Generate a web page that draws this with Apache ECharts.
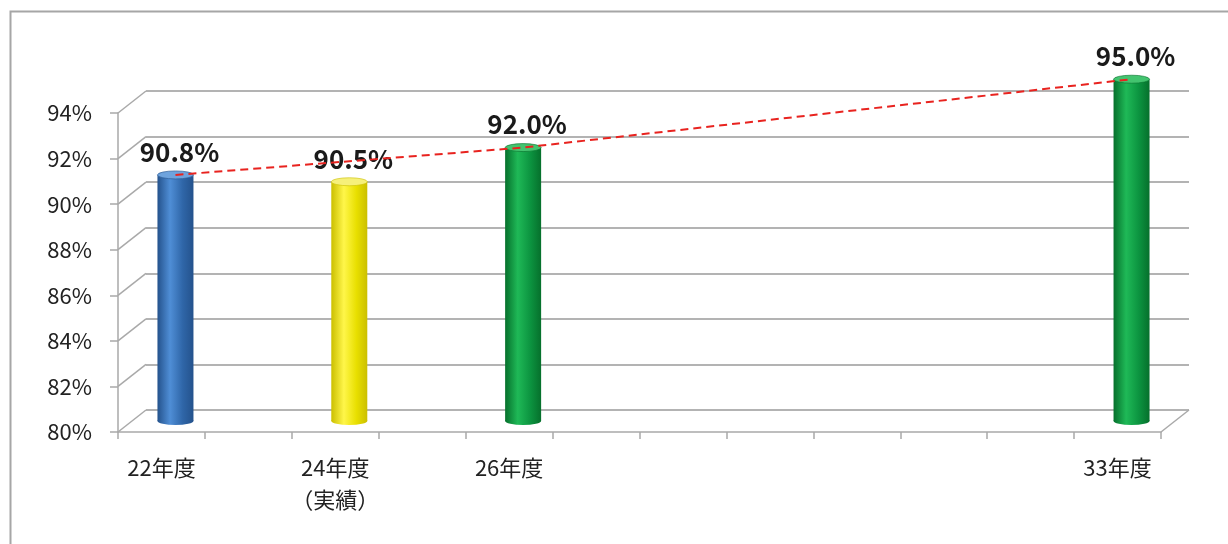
<!DOCTYPE html>
<html>
<head>
<meta charset="utf-8">
<script src="https://cdn.jsdelivr.net/npm/echarts@6/dist/echarts.min.js"></script>
<style>
  html, body { margin: 0; padding: 0; background: #fff; }
  #chart { width: 1228px; height: 544px; }
</style>
</head>
<body>
<div id="chart"></div>
<script>
// 年度（カテゴリ）
const years = ['22年度', '23年度', '24年度', '25年度', '26年度', '27年度',
  '28年度', '29年度', '30年度', '31年度', '32年度', '33年度'];
// 軸に表示するラベル
const xLabels = ['22年度', '', '24年度\n（実績）', '', '26年度', '', '', '', '', '', '', '33年度'];
// 棒の値（%）
const rates = [90.8, null, 90.5, null, 92.0, null, null, null, null, null, null, 95.0];
// 目標ライン（点線）
const targetLine = [90.8, null, null, null, 92.0, null, null, null, null, null, null, 95.0];
// 縦軸の目盛
const yTicks = [80, 82, 84, 86, 88, 90, 92, 94];

// 棒の色（カテゴリ順）
const barColors = {
  0: ['#24528c', '#4f8ed6', '#2f66a8', '#6ea3dd'],
  2: ['#cbbf00', '#fff64a', '#e8df00', '#f6f07a'],
  4: ['#06702c', '#1fb957', '#0c9440', '#43c46f'],
  11: ['#06702c', '#1fb957', '#0c9440', '#43c46f']
};

const FONT = '"Noto Sans CJK JP", "Noto Sans", sans-serif';
const DX = 28, DY = -22; // 奥行き

const chart = echarts.init(document.getElementById('chart'), null, { renderer: 'canvas' });

// 円柱の描画
function renderCylinder(params, api) {
  const idx = api.value(0);
  const val = api.value(1);
  const top = api.coord([idx, val]);
  const base = api.coord([idx, yTicks[0]]);
  const c = barColors[idx];
  const w = 36, ry = 4;
  const grad = new echarts.graphic.LinearGradient(0, 0, 1, 0, [
    { offset: 0, color: c[0] },
    { offset: 0.35, color: c[1] },
    { offset: 0.7, color: c[2] },
    { offset: 1, color: c[0] }
  ]);
  return {
    type: 'group',
    children: [
      {
        type: 'circle',
        x: top[0], y: base[1], scaleY: ry / (w / 2),
        shape: { cx: 0, cy: 0, r: w / 2 },
        style: { fill: grad }
      },
      {
        type: 'rect',
        shape: { x: top[0] - w / 2, y: top[1], width: w, height: base[1] - top[1] },
        style: { fill: grad }
      },
      {
        type: 'circle',
        x: top[0], y: top[1], scaleY: ry / (w / 2),
        shape: { cx: 0, cy: 0, r: w / 2 },
        style: { fill: c[3], stroke: c[0], lineWidth: 1 }
      },
      {
        type: 'text',
        x: top[0] + 4, y: top[1] - 10,
        z2: 10,
        style: {
          text: val.toFixed(1) + '%',
          font: 'bold 26px ' + FONT,
          fill: '#1a1a1a',
          align: 'center',
          verticalAlign: 'bottom'
        }
      }
    ]
  };
}

// 左の壁と床の斜線
function renderWall(params, api) {
  const v = api.value(1);
  const p = api.coord([0, v]);
  const cs = params.coordSys;
  const lineStyle = { stroke: '#a9a9a9', lineWidth: 1.5 };
  const children = [{
    type: 'line',
    shape: { x1: cs.x, y1: p[1], x2: cs.x + DX, y2: p[1] + DY },
    style: lineStyle
  }];
  if (v === yTicks[0]) {
    children.push({
      type: 'line',
      shape: { x1: cs.x + cs.width, y1: p[1], x2: cs.x + cs.width + DX, y2: p[1] + DY },
      style: lineStyle
    });
  }
  return { type: 'group', children: children };
}

const barData = [];
rates.forEach((v, i) => { if (v !== null) barData.push([i, v]); });

const gridBox = { width: 1043, height: 319 };

const option = {
  animation: false,
  backgroundColor: '#fff',
  graphic: [{
    type: 'rect',
    left: 8, top: 9,
    shape: { width: 1240, height: 560 },
    style: { fill: 'none', stroke: '#a6a6a6', lineWidth: 2 }
  }],
  grid: [
    Object.assign({ left: 118 + DX, top: 113 + DY }, gridBox),
    Object.assign({ left: 118 + DX / 2, top: 113 + DY / 2 }, gridBox),
    Object.assign({ left: 118, top: 113 }, gridBox)
  ],
  xAxis: [
    { gridIndex: 0, type: 'category', data: years, show: false },
    { gridIndex: 1, type: 'category', data: years, show: false },
    {
      gridIndex: 2,
      type: 'category',
      data: years,
      axisLine: { lineStyle: { color: '#a9a9a9', width: 1.5 } },
      axisTick: { show: true, interval: 0, length: 7, lineStyle: { color: '#a9a9a9', width: 1.5 } },
      axisLabel: {
        interval: 0,
        formatter: (v, i) => xLabels[i],
        fontSize: 22,
        lineHeight: 32,
        color: '#222',
        margin: 20,
        fontFamily: FONT
      },
      splitLine: { show: false }
    }
  ],
  yAxis: [
    {
      gridIndex: 0, type: 'value', min: 80, max: 94, interval: 2,
      axisLine: { show: false }, axisTick: { show: false }, axisLabel: { show: false },
      splitLine: { show: true, lineStyle: { color: '#b3b3b3', width: 2 } }
    },
    { gridIndex: 1, type: 'value', min: 80, max: 94, interval: 2, show: false },
    {
      gridIndex: 2, type: 'value', min: 80, max: 94, interval: 2,
      axisLine: { show: true, lineStyle: { color: '#a9a9a9', width: 1.5 } },
      axisTick: { show: true, length: 8, lineStyle: { color: '#a9a9a9', width: 1.5 } },
      axisLabel: {
        formatter: '{value}%',
        fontSize: 22,
        color: '#222',
        margin: 26,
        fontFamily: FONT
      },
      splitLine: { show: false }
    }
  ],
  series: [
    {
      type: 'custom',
      xAxisIndex: 2,
      yAxisIndex: 2,
      renderItem: renderWall,
      data: yTicks.map(v => [0, v]),
      z: 1,
      silent: true
    },
    {
      type: 'custom',
      xAxisIndex: 1,
      yAxisIndex: 1,
      renderItem: renderCylinder,
      data: barData,
      clip: false,
      z: 3
    },
    {
      type: 'line',
      xAxisIndex: 1,
      yAxisIndex: 1,
      data: targetLine,
      connectNulls: true,
      clip: false,
      symbol: 'none',
      lineStyle: { color: '#e8231f', width: 2, type: [8, 5] },
      z: 4
    }
  ]
};

chart.setOption(option);
</script>
</body>
</html>
